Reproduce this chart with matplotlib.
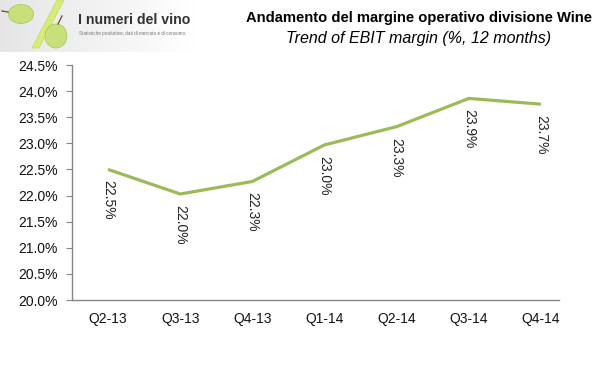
import numpy as np
import matplotlib.pyplot as plt
from matplotlib.patches import Ellipse, Polygon

quarters = ["Q2-13", "Q3-13", "Q4-13", "Q1-14", "Q2-14", "Q3-14", "Q4-14"]
margin = [22.50, 22.03, 22.27, 22.97, 23.32, 23.86, 23.75]
labels = ["22.5%", "22.0%", "22.3%", "23.0%", "23.3%", "23.9%", "23.7%"]
yticks = [20.0, 20.5, 21.0, 21.5, 22.0, 22.5, 23.0, 23.5, 24.0, 24.5]

plt.rcParams['font.family'] = ['Liberation Sans', 'DejaVu Sans']

W, H = 599, 368
fig = plt.figure(figsize=(W / 100, H / 100), dpi=100)

# main chart
ax = fig.add_axes([72 / W, 1 - 300 / H, 487 / W, 235 / H])
x = np.arange(len(quarters))
ax.plot(x, margin, color="#9bbb59", lw=2.3, solid_capstyle="butt")
for xi, yi, lab in zip(x, margin, labels):
    ax.annotate(lab, (xi, yi), xytext=(0, -11), textcoords="offset pixels",
                rotation=-90, ha="center", va="top", fontsize=10, color="#222222")

ax.set_xlim(-0.5, 6.25)
ax.set_ylim(20, 24.5)
ax.set_yticks(yticks)
ax.set_yticklabels([f"{v:.1f}%" for v in yticks], fontsize=10, color="#111111")
ax.set_xticks(x)
ax.set_xticklabels(quarters, fontsize=10, color="#111111")
ax.tick_params(axis="x", length=0, pad=9)
ax.tick_params(axis="y", length=4, color="#868686", pad=6)
for s in ["top", "right"]:
    ax.spines[s].set_visible(False)
for s in ["left", "bottom"]:
    ax.spines[s].set_color("#868686")
    ax.spines[s].set_linewidth(1)

# titles
fig.text(592 / W, 1 - 18 / H, "Andamento del margine operativo divisione Wine",
         ha="right", va="center", fontsize=10.6, fontweight="bold")
fig.text(419 / W, 1 - 38 / H, "Trend of EBIT margin (%, 12 months)",
         ha="center", va="center", fontsize=11.5, fontstyle="italic")

# logo
lg = fig.add_axes([0, 1 - 52 / H, 195 / W, 52 / H])
grad = np.linspace(0.90, 1.0, 200)[None, :]
lg.imshow(np.dstack([grad, grad, grad]), extent=[0, 195, 52, 0], aspect="auto", zorder=0)
lg.set_xlim(0, 195)
lg.set_ylim(52, 0)
lg.axis("off")
lg.add_patch(Polygon([[57, 0], [64, 0], [39, 48], [32, 48]], closed=True,
                     facecolor="#d6ec7a", edgecolor="#c2dc5a", lw=0.5, zorder=1))
lg.add_patch(Ellipse((21, 14), 25, 19, facecolor="#c8e07a", edgecolor="#a9c45a", lw=0.5, zorder=2))
lg.add_patch(Ellipse((56, 36), 22, 24, facecolor="#c8e07a", edgecolor="#a9c45a", lw=0.5, zorder=2))
lg.plot([8, 2], [12, 11], color="#7a5a2a", lw=1, zorder=3)
lg.plot([58, 62], [24, 16], color="#7a5a2a", lw=1, zorder=3)
lg.text(78, 20, "I numeri del vino", fontsize=10.2, color="#333333", va="center",
        ha="left", fontweight="bold", zorder=3)
lg.text(79, 34, "Statistiche produttive, dati di mercato e di consumo.", fontsize=3.3,
        color="#777777", va="center", ha="left", zorder=3)

fig.savefig("out.png", dpi=100)
